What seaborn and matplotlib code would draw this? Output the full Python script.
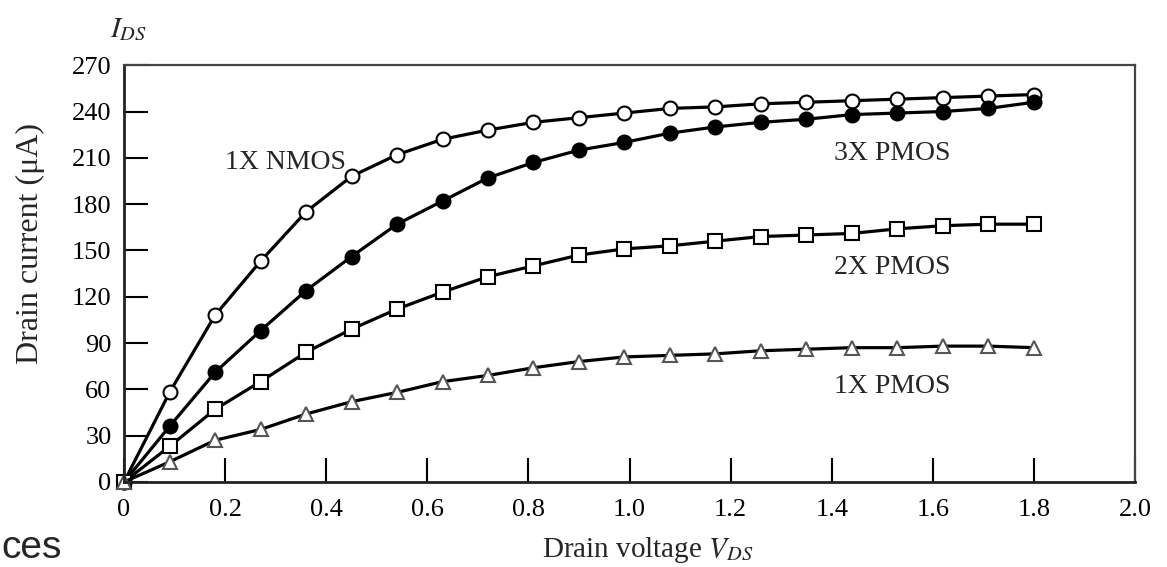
import numpy as np
import pandas as pd
import matplotlib
matplotlib.use("Agg")
import matplotlib.pyplot as plt
import seaborn as sns

# drain voltage samples (V)
vds = [0.00, 0.09, 0.18, 0.27, 0.36, 0.45, 0.54, 0.63, 0.72, 0.81, 0.90,
       0.99, 1.08, 1.17, 1.26, 1.35, 1.44, 1.53, 1.62, 1.71, 1.80]

# drain current (uA)
nmos_1x = [0, 58, 108, 143, 175, 198, 212, 222, 228, 233, 236,
           239, 242, 243, 245, 246, 247, 248, 249, 250, 251]
pmos_3x = [0, 36, 71, 98, 124, 146, 167, 182, 197, 207, 215,
           220, 226, 230, 233, 235, 238, 239, 240, 242, 246]
pmos_2x = [0, 23, 47, 65, 84, 99, 112, 123, 133, 140, 147,
           151, 153, 156, 159, 160, 161, 164, 166, 167, 167]
pmos_1x = [0, 13, 27, 34, 44, 52, 58, 65, 69, 74, 78,
           81, 82, 83, 85, 86, 87, 87, 88, 88, 87]

labels = ["1X NMOS", "3X PMOS", "2X PMOS", "1X PMOS"]
x_ticks = [0, 0.2, 0.4, 0.6, 0.8, 1.0, 1.2, 1.4, 1.6, 1.8, 2.0]
x_ticklabels = ["0", "0.2", "0.4", "0.6", "0.8", "1.0", "1.2", "1.4", "1.6", "1.8", "2.0"]
y_ticks = [0, 30, 60, 90, 120, 150, 180, 210, 240, 270]

sns.set_style("ticks")
plt.rcParams['font.family'] = ['Liberation Serif', 'DejaVu Serif']
plt.rcParams['mathtext.fontset'] = 'stix'

fig = plt.figure(figsize=(11.67, 5.67), dpi=100)
ax = fig.add_axes([0.1063, 0.150, 0.8663, 0.735])

# (series, marker, face, edge)
styles = [
    (nmos_1x, 'o', 'white', 'black'),
    (pmos_3x, 'o', 'black', 'black'),
    (pmos_2x, 's', 'white', 'black'),
    (pmos_1x, '^', 'white', '#555555'),
]
for vals, mk, fc, ec in styles:
    sns.lineplot(x=vds, y=vals, ax=ax, color='black', linewidth=2.3,
                 marker=mk, markersize=10, markerfacecolor=fc,
                 markeredgecolor=ec, markeredgewidth=1.5, clip_on=False)

ax.set_xlim(0, 2.0)
ax.set_ylim(0, 270)
ax.set_xticks(x_ticks)
ax.set_xticklabels(x_ticklabels)
ax.set_yticks(y_ticks)
ax.tick_params(direction='in', length=17, width=1.5, labelsize=19,
               colors='black')
ax.tick_params(axis='x', pad=12)
ax.tick_params(axis='y', pad=9)
for side in ['left', 'bottom']:
    ax.spines[side].set_linewidth(2.0)
    ax.spines[side].set_color('#222222')
for side in ['top', 'right']:
    ax.spines[side].set_visible(True)
    ax.spines[side].set_linewidth(1.6)
    ax.spines[side].set_color('#444444')

ax.text(0.32, 207, labels[0], fontsize=20, ha='center', va='center')
ax.text(1.52, 213, labels[1], fontsize=20, ha='center', va='center')
ax.text(1.52, 139, labels[2], fontsize=20, ha='center', va='center')
ax.text(1.52, 62, labels[3], fontsize=20, ha='center', va='center')

ax.set_xlabel("Drain voltage $V_{DS}$", fontsize=21)
ax.xaxis.label.set_va('center')
ax.xaxis.set_label_coords(0.518, -0.163)
ax.set_ylabel("Drain current (\u03bcA)", fontsize=23)
ax.yaxis.label.set_va('center')
ax.yaxis.set_label_coords(-0.093, 0.573)
fig.text(128 / 1167, 1 - 30 / 567, "$I_{DS}$", fontsize=21,
         ha='center', va='center')
fig.text(0.001, 0.016, "ces", fontsize=28, family='Liberation Sans',
         ha='left', va='baseline')

fig.savefig("out.png", dpi=100)
